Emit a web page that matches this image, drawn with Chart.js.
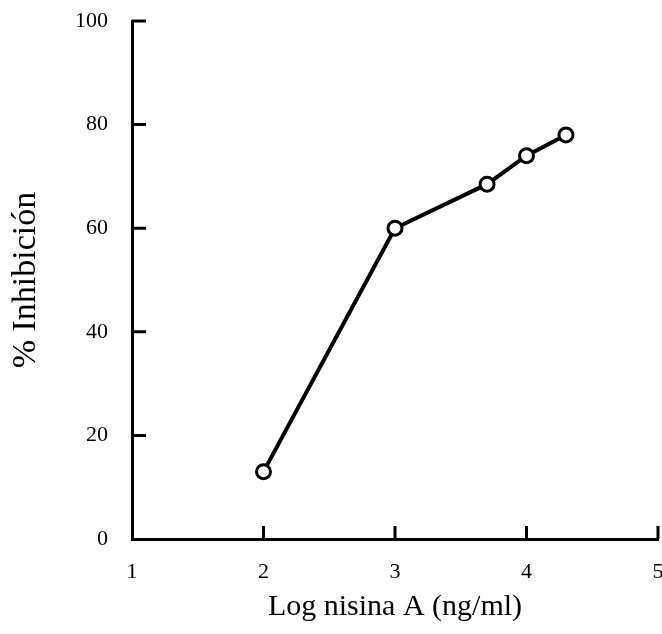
<!DOCTYPE html>
<html>
<head>
  <title>% Inhibición vs Log nisina A</title>
  <script src="https://cdn.jsdelivr.net/npm/chart.js"></script>
  <style>
    body { margin: 0; background: #fff; }
    canvas { display: block; }
  </style>
</head>
<body>
  <canvas id="myChart" width="662" height="634"></canvas>
  <script>
    // data
    const logNisina = [2, 3, 3.7, 4, 4.3];
    const inhibicion = [13, 60, 68.5, 74, 78];
    const xTicks = [1, 2, 3, 4, 5];
    const yTicks = [0, 20, 40, 60, 80, 100];

    const serif = "'Liberation Serif', 'DejaVu Serif', serif";

    // inward tick marks, placed through the scales
    const innerTicks = {
      id: 'innerTicks',
      afterDraw(chart) {
        const c = chart.ctx;
        const xs = chart.scales.x, ys = chart.scales.y;
        c.save();
        c.strokeStyle = '#000';
        c.lineWidth = 3;
        c.beginPath();
        xTicks.slice(1).forEach(v => {
          const px = xs.getPixelForValue(v);
          c.moveTo(px, ys.bottom);
          c.lineTo(px, ys.bottom - 13);
        });
        yTicks.slice(1).forEach(v => {
          const py = ys.getPixelForValue(v);
          c.moveTo(xs.left, py);
          c.lineTo(xs.left + 14, py);
        });
        c.stroke();
        c.restore();
      }
    };

    // keep the plot box where the figure has it (no room kept for overhanging labels)
    const noOverhang = s => { s.paddingLeft = 0; s.paddingRight = 0; s.paddingTop = 0; s.paddingBottom = 0; };

    const ctx = document.getElementById('myChart').getContext('2d');
    const myChart = new Chart(ctx, {
      type: 'scatter',
      data: {
        datasets: [{
          data: logNisina.map((x, i) => ({ x: x, y: inhibicion[i] })),
          showLine: true,
          borderColor: '#000',
          borderWidth: 4,
          pointRadius: 7,
          pointBorderWidth: 3,
          pointBackgroundColor: '#fff',
          pointBorderColor: '#000'
        }]
      },
      options: {
        responsive: false,
        animation: false,
        layout: { autoPadding: false, padding: { top: 21, right: 4, left: 0, bottom: 0 } },
        plugins: { legend: { display: false }, tooltip: { enabled: false } },
        scales: {
          x: {
            type: 'linear',
            min: 1, max: 5,
            afterBuildTicks: s => { s.ticks = xTicks.map(v => ({ value: v })); },
            afterFit: s => { s.height = 95; noOverhang(s); },
            grid: { display: false, drawTicks: false },
            border: { display: true, color: '#000', width: 3 },
            ticks: { color: '#000', padding: 20, font: { family: serif, size: 22 } },
            title: {
              display: true,
              text: 'Log nisina A (ng/ml)',
              color: '#000',
              padding: { top: 0, bottom: 9 },
              font: { family: serif, size: 30 }
            }
          },
          y: {
            min: 0, max: 100,
            afterBuildTicks: s => { s.ticks = yTicks.map(v => ({ value: v })); },
            afterFit: s => { s.width = 132; noOverhang(s); },
            grid: { display: false, drawTicks: false },
            border: { display: true, color: '#000', width: 3 },
            ticks: { color: '#000', padding: 24, font: { family: serif, size: 22 } },
            title: {
              display: true,
              text: '% Inhibición',
              color: '#000',
              padding: { top: 6, bottom: 0 },
              font: { family: serif, size: 34 }
            }
          }
        }
      },
      plugins: [innerTicks]
    });
  </script>
</body>
</html>
